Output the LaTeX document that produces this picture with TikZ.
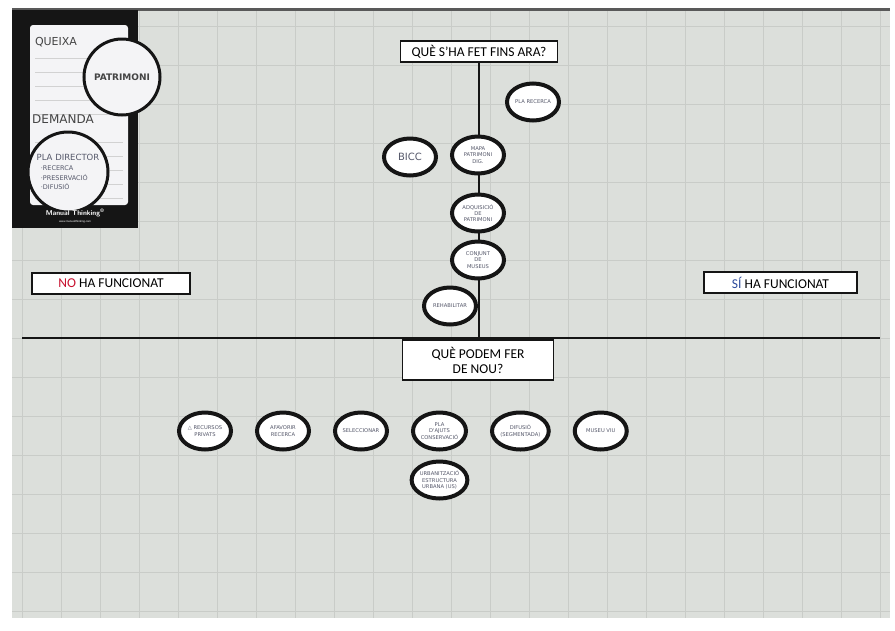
\documentclass[tikz,border=0pt]{standalone}
\usepackage{fontspec}
\setmainfont{Carlito}
\newfontfamily\handfont{DejaVu Sans}
\usetikzlibrary{positioning,shapes.geometric}
\definecolor{Paper}{HTML}{DCDFDB}
\definecolor{GridLine}{HTML}{C9CCC8}
\definecolor{Ink}{HTML}{151515}
\definecolor{Pen}{HTML}{55586A}
\definecolor{NoRed}{HTML}{C8102E}
\definecolor{SiBlue}{HTML}{2C4A9C}
\definecolor{CardWhite}{HTML}{F4F4F6}
\tikzset{
  titlebox/.style={draw=Ink, fill=white, line width=1.3pt, inner sep=2pt, align=center, font=\fontsize{13.5}{15}\selectfont},
  oval/.style={ellipse, draw=Ink, fill=white, line width=4pt, minimum width=52pt, minimum height=37pt, inner sep=0pt, align=center, text=Pen, font=\handfont\fontsize{5.2}{6.2}\selectfont},
  bigcircle/.style={circle, draw=Ink, fill=CardWhite, line width=3pt, inner sep=0pt, text=Ink!80},
  scrawl/.style={text=Ink!80, font=\handfont\fontsize{11}{12}\selectfont},
  axisline/.style={draw=Ink, line width=1.6pt}
}
\begin{document}
\begin{tikzpicture}[x=1pt, y=-1pt, node distance=22pt]
\useasboundingbox (0,0) rectangle (895,630);
\fill[white] (0,0) rectangle (895,630);
% poster sheet with grid
\fill[Paper] (12,10) rectangle (890,618);
\fill[black!65] (12,8) rectangle (890,11);
\foreach \gx in {22,61,...,880}{\draw[GridLine, line width=0.6pt] (\gx,11) -- (\gx,618);}
\foreach \gy in {26,65,...,618}{\draw[GridLine, line width=0.6pt] (12,\gy) -- (890,\gy);}
% manual thinking card
\fill[Ink] (12,10) rectangle (138,228);
\fill[CardWhite, rounded corners=3pt] (30,25) rectangle (128,205);
\foreach \ly in {58,72,86,100,114,142,156,170,184,198}{\draw[gray!35, line width=0.5pt] (35,\ly) -- (123,\ly);}
\node[scrawl] (queixa) at (56,42) {QUEIXA};
\node[scrawl, font=\handfont\fontsize{12}{13}\selectfont] (demanda) at (63,119) {DEMANDA};
\node[bigcircle, minimum size=76pt, font=\handfont\bfseries\fontsize{9}{10}\selectfont] (patrimoni) at (122,77) {PATRIMONI};
\node[bigcircle, minimum size=80pt, align=left, text=Pen, font=\handfont\fontsize{6.5}{9.5}\selectfont] (pladirector) at (68,172) {{\fontsize{8.5}{9}\selectfont PLA DIRECTOR}\\[1pt]\ \ ·RECERCA\\\ \ ·PRESERVACIÓ\\\ \ ·DIFUSIÓ};
\node[text=white, font=\sffamily\bfseries\fontsize{7}{8}\selectfont] (brand) at (75,213) {Manual Thinking\textsuperscript{®}};
\node[text=white, font=\fontsize{3}{4}\selectfont] (web) at (75,222) {www.manualthinking.com};
% headings and axes
\node[titlebox, minimum width=157pt, minimum height=21pt] (fet) at (479,51.5) {QUÈ S'HA FET FINS ARA?};
\coordinate (axisL) at (22,338);
\coordinate (axisR) at (880,338);
\draw[axisline] (axisL) -- (axisR);
\draw[axisline] (fet.south) -- (fet.south |- axisL);
\node[titlebox, minimum width=151pt, minimum height=40pt, inner sep=3pt] (nou) at (478,360) {QUÈ PODEM FER\\DE NOU?};
\node[titlebox, minimum width=158pt, minimum height=21pt] (no) at (111,283.5) {\textcolor{NoRed}{NO} HA FUNCIONAT};
\node[titlebox, minimum width=153pt, minimum height=21pt] (si) at (780.5,282.5) {\textcolor{SiBlue}{SÍ} HA FUNCIONAT};
% what has been done
\node[oval] (recerca) at (533,102) {PLA RECERCA};
\node[oval, font=\handfont\fontsize{10}{11}\selectfont] (bicc) at (410,157) {BICC};
\node[oval] (mapa) at (478,155) {MAPA\\PATRIMONI\\DIG.};
\node[oval] (adquisicio) at (478,213) {ADQUISICIÓ\\DE\\PATRIMONI};
\node[oval] (conjunt) at (478,260) {CONJUNT\\DE\\MUSEUS};
\node[oval] (rehabilitar) at (450,306) {REHABILITAR};
% what we can do
\node[oval] (privats) at (205,431) {△ RECURSOS\\PRIVATS};
\node[oval, right=of privats] (afavorir) {AFAVORIR\\RECERCA};
\node[oval, right=of afavorir] (seleccionar) {SELECCIONAR};
\node[oval, right=of seleccionar] (ajuts) {PLA\\D'AJUTS\\CONSERVACIÓ};
\node[oval, right=of ajuts] (difusio) {DIFUSIÓ\\(SEGMENTADA)};
\node[oval, right=of difusio] (museu) {MUSEU VIU};
\node[oval, below=8pt of ajuts] (urbanitzacio) {URBANITZACIÓ\\ESTRUCTURA\\URBANA (US)};
\end{tikzpicture}
\end{document}
